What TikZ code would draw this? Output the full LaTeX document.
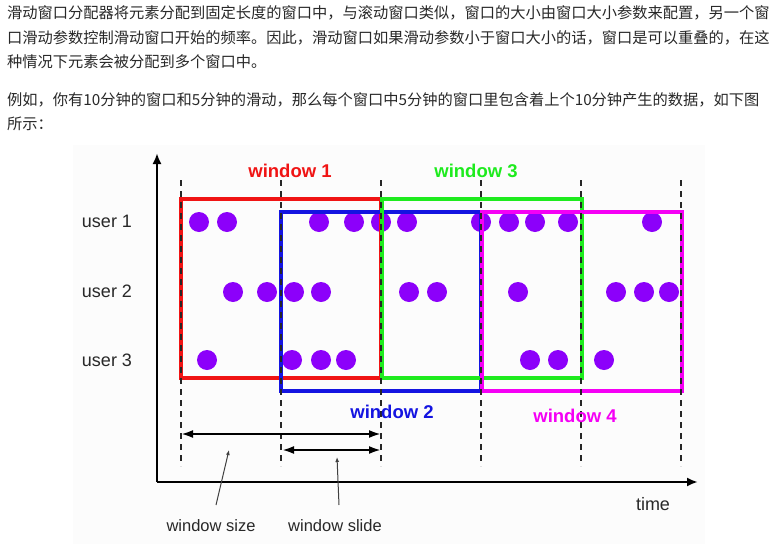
\documentclass[tikz,border=0pt]{standalone}
\usepackage{fontspec}
\setmainfont{Liberation Sans}
\newfontfamily\cjk{Noto Sans CJK SC}
\usetikzlibrary{arrows.meta}
\definecolor{txtgray}{RGB}{40,40,40}
\definecolor{panelbg}{RGB}{252,252,252}
\definecolor{wred}{RGB}{240,20,20}
\definecolor{wgreen}{RGB}{30,235,30}
\definecolor{wblue}{RGB}{20,20,225}
\definecolor{wmag}{RGB}{245,0,245}
\definecolor{dotviolet}{RGB}{140,0,250}
\definecolor{labgray}{RGB}{40,40,40}
\tikzset{
  para/.style={anchor=west, inner sep=0pt, text=txtgray, font=\cjk\fontsize{15.25}{18}\selectfont},
  dotnode/.style={circle, fill=dotviolet, inner sep=0pt, minimum size=20pt},
  winbox/.style={draw, line width=3.4pt, inner sep=0pt, minimum width=200pt, minimum height=179pt},
  winlabel/.style={inner sep=0pt, font=\bfseries\fontsize{18.5}{20}\selectfont},
  userlabel/.style={inner sep=0pt, text=labgray, font=\fontsize{18}{20}\selectfont},
  smalllabel/.style={inner sep=0pt, text=labgray, font=\fontsize{16.5}{18}\selectfont},
  gridline/.style={black!85, line width=1.8pt, dash pattern=on 6pt off 5pt},
  axisline/.style={black, line width=2.2pt, -{Latex[length=11pt,width=9pt]}},
  spanarrow/.style={black, line width=2.2pt, {Latex[length=12pt,width=8pt]}-{Latex[length=12pt,width=8pt]}},
  pointerline/.style={black!75, line width=1pt, -{Latex[length=5pt,width=4pt]}}
}
\begin{document}
\begin{tikzpicture}[x=1pt,y=-1pt]
\useasboundingbox (0,0) rectangle (780,544);
\fill[white] (0,0) rectangle (780,544);
\fill[panelbg] (73,145) rectangle (705,544);

% paragraph text
\node[para] (p1) at (7,13) {滑动窗口分配器将元素分配到固定长度的窗口中，与滚动窗口类似，窗口的大小由窗口大小参数来配置，另一个窗};
\node[para] (p2) at (7,38) {口滑动参数控制滑动窗口开始的频率。因此，滑动窗口如果滑动参数小于窗口大小的话，窗口是可以重叠的，在这};
\node[para] (p3) at (7,62) {种情况下元素会被分配到多个窗口中。};
\node[para] (p4) at (7,100) {例如，你有10分钟的窗口和5分钟的滑动，那么每个窗口中5分钟的窗口里包含着上个10分钟产生的数据，如下图};
\node[para] (p5) at (7,124) {所示：};

% dots
\foreach \x [count=\i] in {199,227,319,354,381,407,481,509,535,568,652}
  \node[dotnode] (ra\i) at (\x,222) {};
\foreach \x [count=\i] in {233,267,294,321,409,437,518,616,644,669}
  \node[dotnode] (rb\i) at (\x,292) {};
\foreach \x [count=\i] in {207,292,321,346,530,558,604}
  \node[dotnode] (rc\i) at (\x,360) {};

% windows
\node[winbox, draw=wred] (win1) at (281,288.5) {};
\node[winbox, draw=wblue] (win2) at (381,301.5) {};
\node[winbox, draw=wgreen] (win3) at (482,288.5) {};
\node[winbox, draw=wmag] (win4) at (582,301.5) {};

% dashed time marks
\foreach \x [count=\i] in {181,281,381,481,581,681} {
  \coordinate (gt\i) at (\x,180);
  \coordinate (gb\i) at (\x,466);
  \draw[gridline] (gt\i) -- (gb\i);
}

\node[winlabel, text=wred] (lw1) at (290,171) {window 1};
\node[winlabel, text=wgreen] (lw3) at (476,171) {window 3};
\node[winlabel, text=wblue] (lw2) at (392,412) {window 2};
\node[winlabel, text=wmag] (lw4) at (575,416) {window 4};

% user labels
\node[userlabel] (u1) at (107,221) {user 1};
\node[userlabel] (u2) at (107,291) {user 2};
\node[userlabel] (u3) at (107,360) {user 3};

% axes
\coordinate (origin) at (157,482);
\coordinate (ytop) at (157,153);
\coordinate (xend) at (698,482);
\draw[axisline] (origin) -- (ytop);
\draw[axisline] (origin) -- (xend);
\node[userlabel] (tlabel) at (653,504) {time};

% size / slide spans
\coordinate (sizeA) at (181,434);
\coordinate (sizeB) at (381,434);
\coordinate (slideA) at (282,450);
\coordinate (slideB) at (381,450);
\draw[spanarrow] (sizeA) -- (sizeB);
\draw[spanarrow] (slideA) -- (slideB);

\node[smalllabel] (lsize) at (211,526) {window size};
\node[smalllabel] (lslide) at (335,526) {window slide};
\coordinate (psizeA) at (216,505);
\coordinate (psizeB) at (229,450);
\coordinate (pslideA) at (339,505);
\coordinate (pslideB) at (337,457);
\draw[pointerline] (psizeA) -- (psizeB);
\draw[pointerline] (pslideA) -- (pslideB);
\end{tikzpicture}
\end{document}
